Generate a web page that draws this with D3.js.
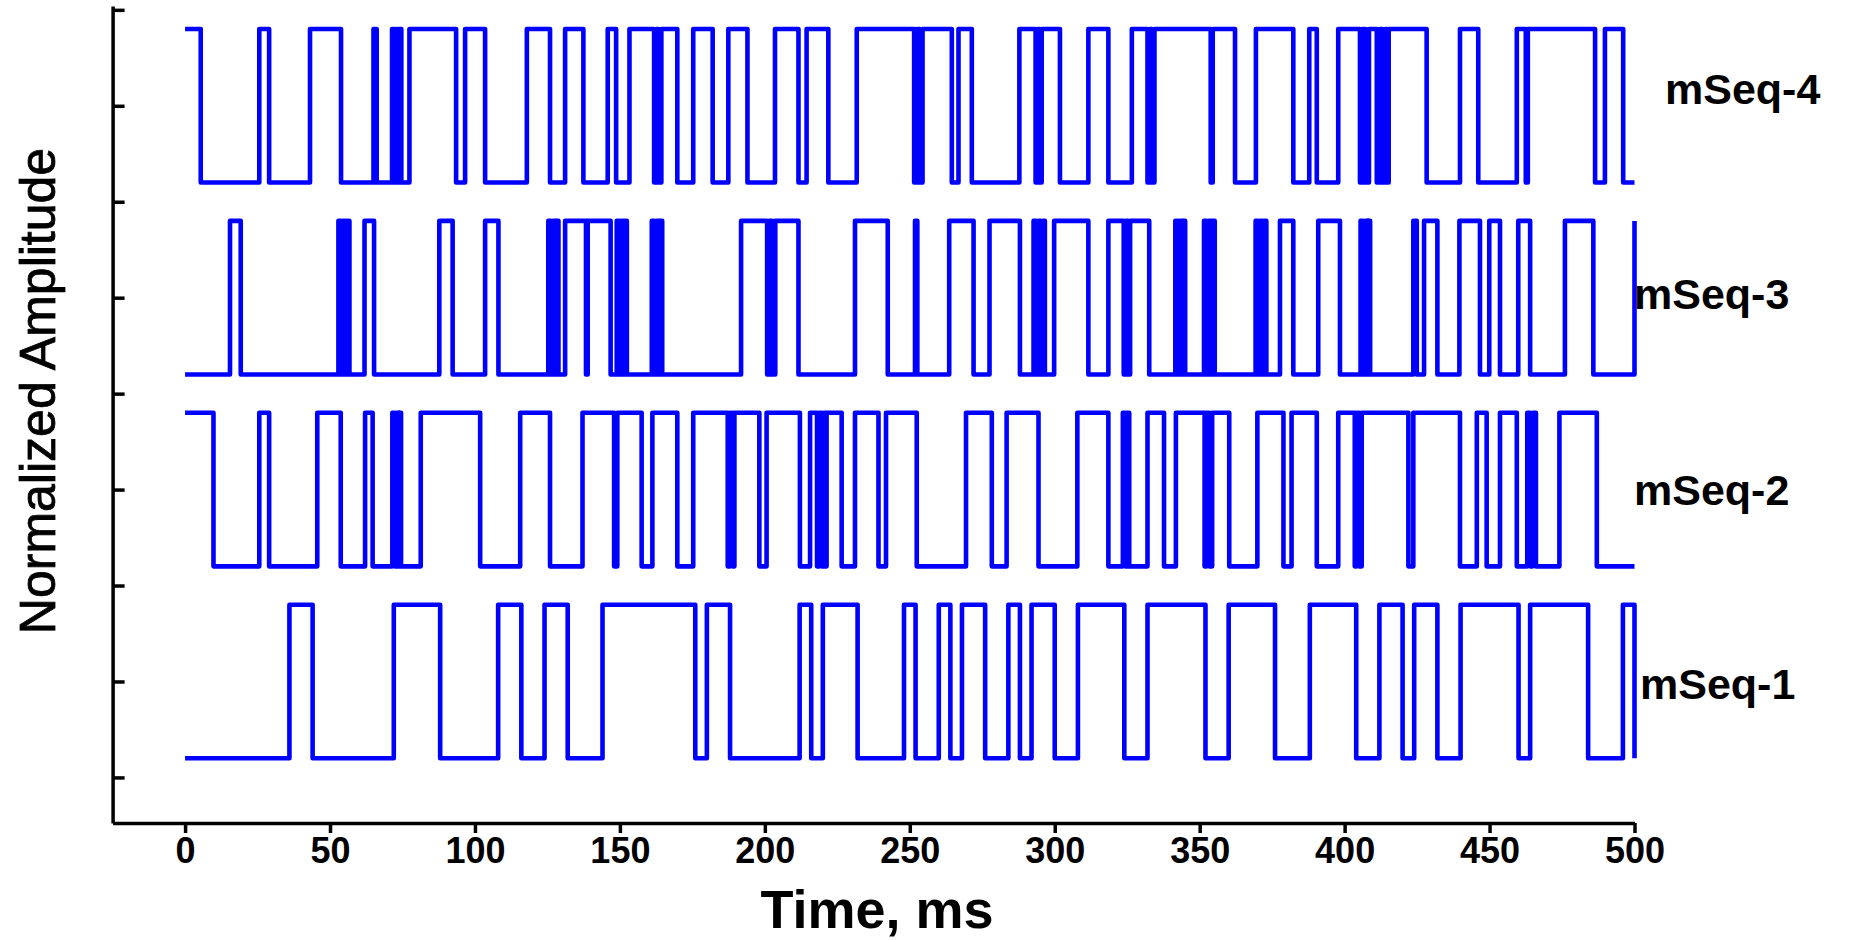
<!DOCTYPE html>
<html><head><meta charset="utf-8">
<script src="https://cdn.jsdelivr.net/npm/d3@7"></script>
<style>html,body{margin:0;padding:0;background:#fff;}svg{display:block;}</style>
</head><body>
<svg id="chart" width="1858" height="940"></svg>
<script>
// ---- data (times in ms where each sequence toggles its level) ----
const seriesNames = ["mSeq-1", "mSeq-2", "mSeq-3", "mSeq-4"];
const seriesOffsets = [1, 3, 5, 7];
const seriesStart = [0, 1, 0, 1];   // initial level (0 = low, 1 = high)
const mSeq1Toggles = [36,44,72,88,108,116,124,132,144,176,180,188,212,216,220,232,248,252,260,264,268,276,284,288,292,300,308,324,332,352,360,376,388,404,412,420,424,432,440,460,464,484,496,500];
const mSeq2Toggles = [9.8,25.6,29.0,45.6,53.7,62.1,64.7,71.5,72.3,73.0,73.7,74.0,74.5,81.3,101.8,115.6,125.9,137.1,148.0,149.1,157.5,161.2,169.8,175.3,187.2,188.0,188.8,189.5,198.1,200.6,212.1,215.6,218.0,218.8,219.6,220.4,220.8,221.3,226.5,231.1,239.2,241.8,252.4,269.4,278.3,283.4,294.4,307.8,318.5,323.5,324.3,325.0,325.7,332.0,337.7,341.8,351.7,352.4,353.3,354.3,360.2,369.9,378.9,381.7,390.4,397.8,403.5,404.2,405.0,405.9,422.0,423.7,439.8,445.6,449.0,453.6,459.4,463.0,464.0,464.9,466.0,474.1,487.0];
const mSeq3Toggles = [15.5,19.2,52.9,53.7,54.5,55.3,56.0,56.7,61.9,65.2,87.7,92.3,103.5,108.1,125.3,126.1,126.9,127.7,128.2,128.8,131.1,138.3,138.9,146.8,148.9,149.7,150.5,151.2,151.8,152.4,161.0,161.8,162.6,163.4,164.0,164.6,191.8,200.8,201.6,202.6,203.6,211.6,231.1,242.4,251.8,252.6,263.6,272.0,277.5,288.0,292.7,293.5,294.3,295.1,295.9,296.6,299.8,311.6,318.5,323.8,324.6,325.2,326.0,332.6,341.6,342.4,343.2,344.0,344.5,345.0,351.5,352.3,353.1,353.9,354.5,355.2,369.3,370.1,370.9,371.7,372.4,373.0,377.7,382.3,390.9,398.4,405.5,406.3,407.1,407.9,408.2,408.8,423.7,424.9,427.4,432.0,439.6,446.7,449.9,453.6,459.9,464.0,476.0,485.8,500];
const mSeq4Toggles = [5.4,25.6,29.0,43.1,53.8,65.0,66.1,71.4,72.2,72.9,73.6,74.0,74.6,77.4,93.5,96.6,103.5,117.9,125.9,131.1,137.4,145.8,148.7,153.3,161.8,162.6,163.3,164.3,169.8,175.3,182.0,187.4,194.0,203.5,211.6,214.4,221.9,231.7,251.5,252.4,253.4,254.4,264.5,266.8,271.4,287.8,293.4,294.2,294.8,295.5,301.8,311.6,318.5,326.6,332.0,332.8,333.5,334.4,353.8,354.5,362.2,369.4,382.3,387.8,390.4,397.8,405.3,406.2,407.2,408.4,411.1,412.0,413.0,414.0,414.6,415.2,428.3,439.8,446.1,459.4,462.5,463.2,486.4,489.8,496.1];
const seriesToggles = [mSeq1Toggles, mSeq2Toggles, mSeq3Toggles, mSeq4Toggles];
const xTicks = [0,50,100,150,200,250,300,350,400,450,500];
const yTicks = [0,1,2,3,4,5,6,7,8];
const xTitle = "Time, ms";
const yTitle = "Normalized Amplitude";

// ---- scales ----
const svg = d3.select("#chart");
const x = d3.scaleLinear().domain([-25, 500]).range([112.6, 1634.5]);
const y = d3.scaleLinear().domain([-0.475, 8.04]).range([823, 6]);
const halfAmp = 0.8;

// ---- build step series ----
function buildPoints(start, toggles, off) {
  let s = start;
  const pts = [[0, off + (s ? halfAmp : -halfAmp)]];
  toggles.forEach(t => { s = 1 - s; pts.push([t, off + (s ? halfAmp : -halfAmp)]); });
  pts.push([500, off + (s ? halfAmp : -halfAmp)]);
  return pts;
}
const line = d3.line().x(d => x(d[0])).y(d => y(d[1])).curve(d3.curveStepAfter);

seriesNames.forEach((name, i) => {
  svg.append("path")
    .attr("d", line(buildPoints(seriesStart[i], seriesToggles[i], seriesOffsets[i])))
    .attr("fill", "none").attr("stroke", "#0000ff")
    .attr("stroke-width", 4.6).attr("stroke-linejoin", "round");
});

// ---- axes ----
const gx = svg.append("g").attr("transform", "translate(0,823)")
  .call(d3.axisBottom(x).tickValues(xTicks).tickSize(10).tickSizeOuter(0).tickPadding(4));
gx.selectAll("text").attr("font-family", "'Liberation Sans', Arial, sans-serif")
  .attr("font-size", 36).attr("font-weight", "bold").attr("fill", "#000");
const gy = svg.append("g").attr("transform", "translate(112.6,0)")
  .call(d3.axisRight(y).tickValues(yTicks).tickSize(12).tickSizeOuter(0).tickFormat(""));
[gx, gy].forEach(g => {
  g.select(".domain").attr("stroke", "#000").attr("stroke-width", 3.5);
  g.selectAll(".tick line").attr("stroke", "#000").attr("stroke-width", 3.5);
});

// ---- titles ----
svg.append("text").attr("x", 877).attr("y", 928).attr("text-anchor", "middle")
  .attr("font-family", "'Liberation Sans', Arial, sans-serif")
  .attr("font-size", 54).attr("font-weight", "bold").text(xTitle);
svg.append("text").attr("transform", "translate(55,391) rotate(-90)")
  .attr("text-anchor", "middle")
  .attr("font-family", "'Liberation Sans', Arial, sans-serif")
  .attr("font-size", 50).attr("stroke", "#000").attr("stroke-width", 0.8).text(yTitle);

// ---- series labels ----
const labelX = [1640, 1634, 1634, 1665];
const labelY = [699, 505, 309, 104];
seriesNames.forEach((name, i) => {
  svg.append("text").attr("x", labelX[i]).attr("y", labelY[i])
    .attr("font-family", "'Liberation Sans', Arial, sans-serif")
    .attr("font-size", 43).attr("font-weight", "bold").text(name);
});
</script>
</body></html>
